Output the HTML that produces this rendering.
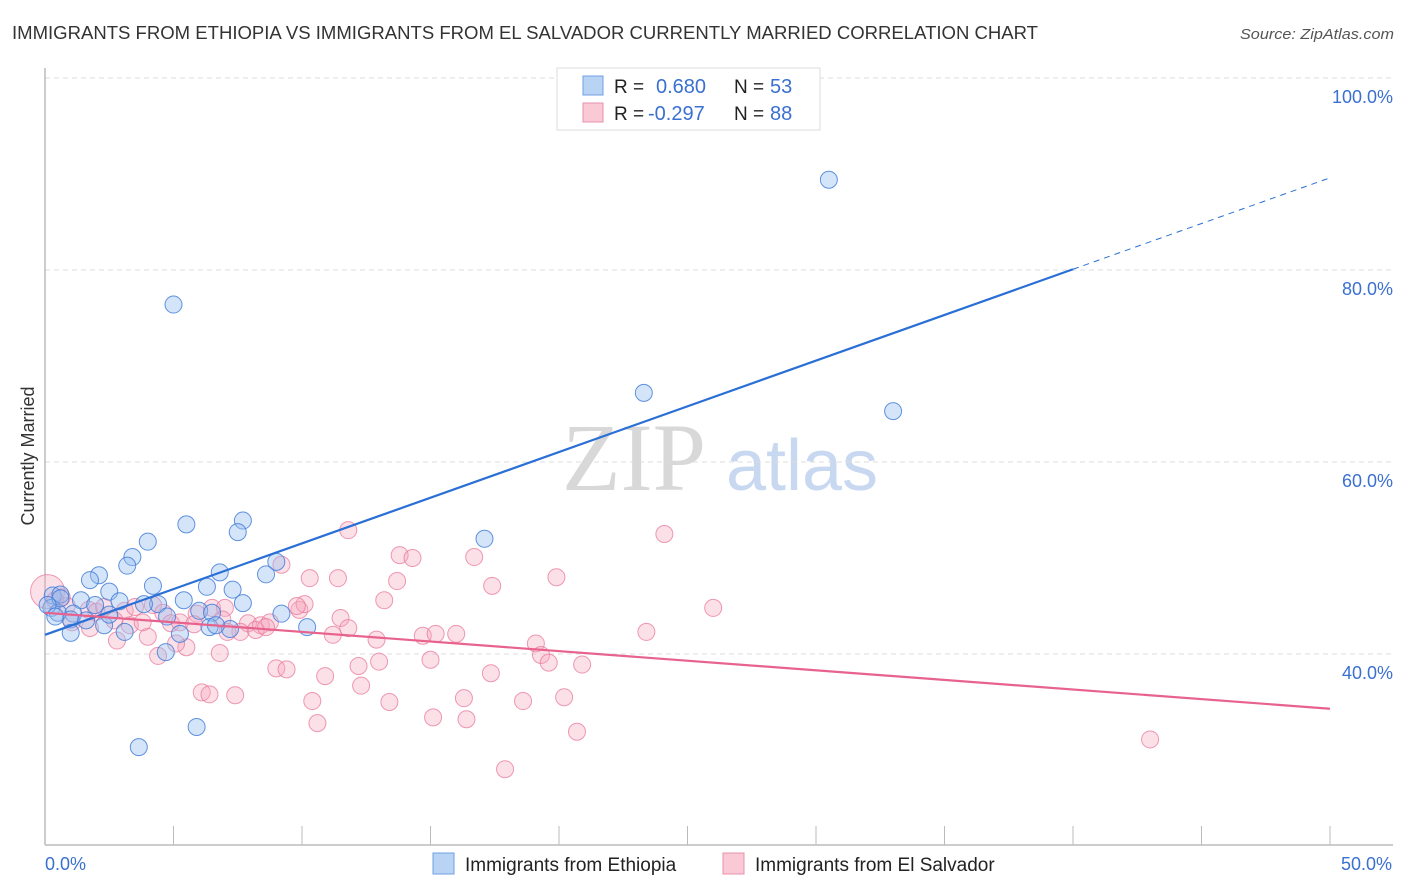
<!DOCTYPE html>
<html><head><meta charset="utf-8"><style>
body{margin:0;background:#fff;}
svg{display:block;font-family:"Liberation Sans",sans-serif;}
</style></head><body>
<svg id="chart" width="1406" height="892" viewBox="0 0 1406 892" xmlns="http://www.w3.org/2000/svg">
<text x="12" y="39" font-size="18" fill="#333" textLength="1026" lengthAdjust="spacingAndGlyphs">IMMIGRANTS FROM ETHIOPIA VS IMMIGRANTS FROM EL SALVADOR CURRENTLY MARRIED CORRELATION CHART</text>
<text x="1394" y="39" font-size="15" fill="#555" font-style="italic" text-anchor="end" textLength="154" lengthAdjust="spacingAndGlyphs">Source: ZipAtlas.com</text>
<g>
<text x="634" y="490" font-size="96" font-family="Liberation Serif,serif" fill="#d8d8d8" text-anchor="middle">ZIP</text>
<text x="802" y="490" font-size="72" fill="#c8d8f0" text-anchor="middle">atlas</text>
</g>
<g id="grid"></g>
<g id="axes"></g>
<g id="marks"></g>
<text transform="translate(34,456) rotate(-90)" font-size="18" fill="#333" text-anchor="middle">Currently Married</text>
<g>
<rect x="557" y="68" width="263" height="62" fill="#fff" stroke="#ddd"/>
<rect x="583" y="76" width="20" height="19" fill="#b9d3f5" stroke="#6f9fe0"/>
<rect x="583" y="103" width="20" height="19" fill="#f9c9d6" stroke="#e890aa"/>
<text x="614" y="93" font-size="19" fill="#222">R = </text><text x="656" y="93" font-size="20" fill="#3a70d0">0.680</text>
<text x="734" y="93" font-size="19" fill="#222">N = </text><text x="770" y="93" font-size="20" fill="#3a70d0">53</text>
<text x="614" y="120" font-size="19" fill="#222">R = </text><text x="648" y="120" font-size="20" fill="#3a70d0">-0.297</text>
<text x="734" y="120" font-size="19" fill="#222">N = </text><text x="770" y="120" font-size="20" fill="#3a70d0">88</text>
</g>
<g>
<rect x="433" y="853" width="21" height="21" fill="#b9d3f5" stroke="#6f9fe0"/>
<text x="465" y="871" font-size="19" fill="#222">Immigrants from Ethiopia</text>
<rect x="723" y="853" width="21" height="21" fill="#f9c9d6" stroke="#e890aa"/>
<text x="755" y="871" font-size="19" fill="#222">Immigrants from El Salvador</text>
</g>
</svg>
<script>
const xTicks=[0,5,10,15,20,25,30,35,40,45,50];
const yGrid=[40,60,80,100];
const yTickLabels=["40.0%","60.0%","80.0%","100.0%"];
const xEndLabels=["0.0%","50.0%"];
const ethX=[30.5,5.0,23.3,33.0,17.1,7.7,7.5,5.5,4.0,3.4,3.2,9.0,8.6,6.8,2.1,1.75,4.2,2.5,6.3,7.3,1.4,2.9,4.4,5.4,3.85,7.7,0.3,0.6,0.25,0.5,1.95,1.1,1.0,4.75,6.0,9.2,6.5,1.6,2.3,3.1,6.4,7.2,6.65,10.2,1.0,5.25,4.7,5.9,3.65,0.6,0.1,0.4,2.5];
const ethY=[89.4,76.4,67.2,65.3,52.0,53.9,52.7,53.5,51.7,50.1,49.2,49.6,48.3,48.5,48.2,47.7,47.1,46.5,47.0,46.7,45.6,45.5,45.2,45.6,45.2,45.3,46.1,46.2,44.8,44.3,45.1,44.2,43.6,43.9,44.5,44.2,44.3,43.5,43.0,42.3,42.8,42.6,43.0,42.8,42.2,42.1,40.2,32.4,30.3,45.8,45.1,43.9,44.1];
const salX=[0.1,0.4,0.65,0.85,1.7,2.0,2.3,3.1,3.5,4.2,4.6,5.9,6.5,7.0,6.9,7.9,8.4,8.75,9.9,10.1,9.8,11.8,13.8,14.3,16.7,17.4,19.9,24.1,26.0,9.2,10.3,11.4,13.7,13.2,11.5,11.8,11.2,12.9,14.7,15.2,16.0,19.1,19.3,19.6,20.9,23.4,2.8,4.0,4.4,5.5,5.1,6.8,7.6,8.2,9.0,9.4,10.9,12.2,13.0,15.0,17.35,12.3,10.4,13.4,16.3,20.2,18.6,6.1,6.4,7.4,10.6,15.1,16.4,20.7,17.9,43.0,3.3,4.9,5.25,7.1,8.6,1.05,1.75,2.7,3.8,5.8];
const salY=[46.5,45.6,45.9,45.0,44.6,44.4,44.9,44.5,44.9,45.1,44.3,44.2,44.8,44.8,43.6,43.2,43.0,43.3,44.6,45.2,45.0,52.9,50.3,50.0,50.1,47.1,48.0,52.5,44.8,49.3,47.9,47.9,47.6,45.6,43.75,42.7,42.0,41.5,41.9,42.1,42.1,41.1,39.9,39.1,38.9,42.3,41.4,41.8,39.8,40.7,41.1,40.1,42.3,42.5,38.5,38.4,37.7,38.75,39.2,39.4,38.0,36.7,35.1,35.0,35.4,35.5,35.1,36.0,35.8,35.7,32.8,33.4,33.2,31.9,28.0,31.1,43.0,43.2,43.3,42.3,42.8,43.3,42.7,43.5,43.3,43.1];
const ethTrend=[42.0,89.6];
const salTrend=[44.3,34.3];
const solidEnd=40;
const X=v=>45+v*25.7;
const Y=v=>654-(v-40)*9.6;
const NS="http://www.w3.org/2000/svg";
function mk(tag,attrs,parent){const e=document.createElementNS(NS,tag);for(const k in attrs)e.setAttribute(k,attrs[k]);parent.appendChild(e);return e;}
const grid=document.getElementById('grid'),axes=document.getElementById('axes'),marks=document.getElementById('marks');
yGrid.forEach((v,i)=>{
 const l=mk('line',{x1:45,x2:1393,y1:Y(v),y2:Y(v),stroke:'#ddd','stroke-dasharray':'5,4'},grid);
 
 
 const t=mk('text',{x:1393,y:Y(v)+25,'font-size':18,fill:'#3a70d0','text-anchor':'end'},axes);
 t.textContent=yTickLabels[i];
 
 
});
const ya=mk('line',{x1:45,x2:45,y1:68,y2:845,stroke:'#bbb','stroke-width':1.5},axes);


const xa=mk('line',{x1:45,x2:1393,y1:845,y2:845,stroke:'#bbb','stroke-width':1.5},axes);


xTicks.forEach(v=>{
 const t=mk('line',{x1:X(v),x2:X(v),y1:826,y2:845,stroke:'#bbb'},axes);
 
 
});
[[0,'start'],[50,'end']].forEach((p,i)=>{
 const t=mk('text',{x:X(p[0])+(i?62:0),y:870,'font-size':18,fill:'#3a70d0','text-anchor':p[1]},axes);
 t.textContent=xEndLabels[i];
 
 
});
salX.forEach((x,i)=>{
 const c=mk('circle',{cx:X(x),cy:Y(salY[i]),r:i===0?17:8.5,fill:'rgba(246,166,190,0.35)',stroke:'rgba(232,120,155,0.75)','stroke-width':1},marks);
 
 
});
ethX.forEach((x,i)=>{
 const c=mk('circle',{cx:X(x),cy:Y(ethY[i]),r:8.5,fill:'rgba(150,190,240,0.4)',stroke:'rgba(60,120,215,0.8)','stroke-width':1},marks);
 
 
});
const ey=x=>ethTrend[0]+(ethTrend[1]-ethTrend[0])*x/50;
const t1=mk('line',{x1:X(0),y1:Y(ey(0)),x2:X(solidEnd),y2:Y(ey(solidEnd)),stroke:'#2a6fd6','stroke-width':2.2},marks);


const t2=mk('line',{x1:X(solidEnd),y1:Y(ey(solidEnd)),x2:X(50),y2:Y(ey(50)),stroke:'#2a6fd6','stroke-width':1,'stroke-dasharray':'6,5'},marks);


const t3=mk('line',{x1:X(0),y1:Y(salTrend[0]),x2:X(50),y2:Y(salTrend[1]),stroke:'#e8628e','stroke-width':2.2},marks);


</script>
</body></html>
